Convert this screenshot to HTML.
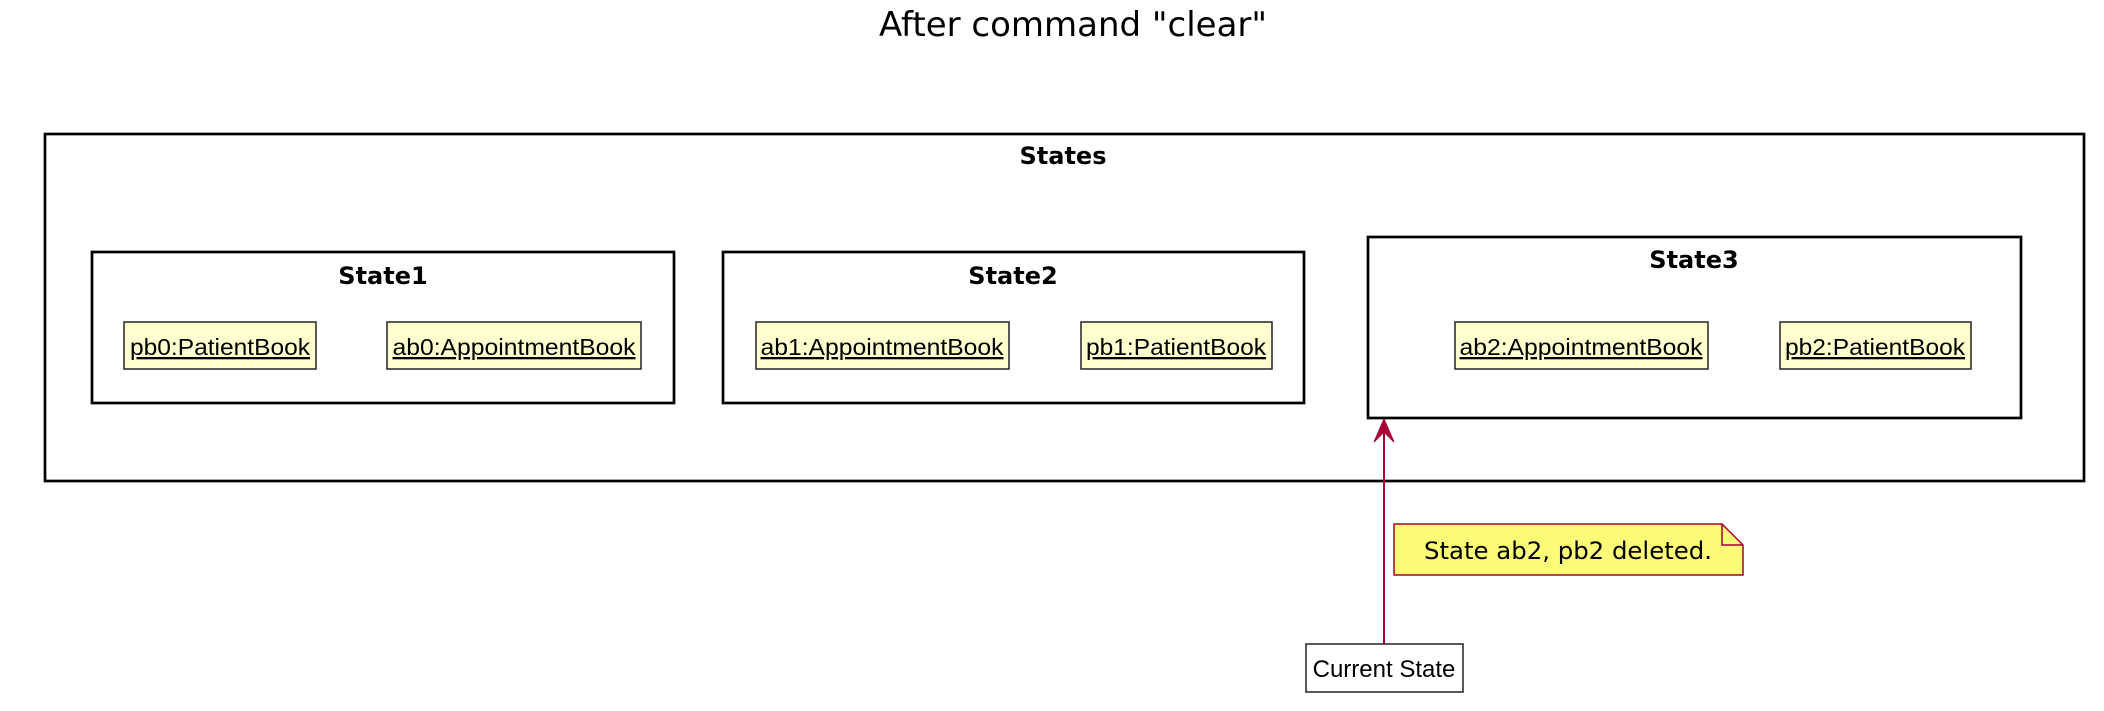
<!DOCTYPE html>
<html><head><meta charset="utf-8"><style>
body{margin:0;background:#fff;}
svg{display:block}
</style></head><body>
<svg width="2104" height="711" viewBox="0 0 2104 711" xmlns="http://www.w3.org/2000/svg">
<text x="1073" y="36" font-family="DejaVu Sans, sans-serif" font-size="34" text-anchor="middle" fill="#000">After command "clear"</text>
<rect x="45" y="134" width="2039" height="347" fill="#fff" stroke="#000" stroke-width="2.7"/>
<text x="1063" y="164" font-family="DejaVu Sans, sans-serif" font-weight="bold" font-size="24" text-anchor="middle">States</text>

<rect x="92" y="252" width="582" height="151" fill="#fff" stroke="#000" stroke-width="2.7"/>
<text x="383" y="284" font-family="DejaVu Sans, sans-serif" font-weight="bold" font-size="24" text-anchor="middle">State1</text>
<rect x="723" y="252" width="581" height="151" fill="#fff" stroke="#000" stroke-width="2.7"/>
<text x="1013" y="284" font-family="DejaVu Sans, sans-serif" font-weight="bold" font-size="24" text-anchor="middle">State2</text>
<rect x="1368" y="237" width="653" height="181" fill="#fff" stroke="#000" stroke-width="2.7"/>
<text x="1694" y="268" font-family="DejaVu Sans, sans-serif" font-weight="bold" font-size="24" text-anchor="middle">State3</text>

<g font-family="Liberation Sans, sans-serif" font-size="23" text-anchor="middle" text-decoration="underline">
<rect x="124" y="322" width="192" height="47" fill="#fefece" stroke="#222" stroke-width="1.5"/>
<text x="220" y="355" textLength="180" lengthAdjust="spacingAndGlyphs">pb0:PatientBook</text>
<rect x="387" y="322" width="254" height="47" fill="#fefece" stroke="#222" stroke-width="1.5"/>
<text x="514" y="355" textLength="243" lengthAdjust="spacingAndGlyphs">ab0:AppointmentBook</text>
<rect x="756" y="322" width="253" height="47" fill="#fefece" stroke="#222" stroke-width="1.5"/>
<text x="882" y="355" textLength="243" lengthAdjust="spacingAndGlyphs">ab1:AppointmentBook</text>
<rect x="1081" y="322" width="191" height="47" fill="#fefece" stroke="#222" stroke-width="1.5"/>
<text x="1176" y="355" textLength="180" lengthAdjust="spacingAndGlyphs">pb1:PatientBook</text>
<rect x="1455" y="322" width="253" height="47" fill="#fefece" stroke="#222" stroke-width="1.5"/>
<text x="1581" y="355" textLength="243" lengthAdjust="spacingAndGlyphs">ab2:AppointmentBook</text>
<rect x="1780" y="322" width="191" height="47" fill="#fefece" stroke="#222" stroke-width="1.5"/>
<text x="1875" y="355" textLength="180" lengthAdjust="spacingAndGlyphs">pb2:PatientBook</text>
</g>

<line x1="1384" y1="422" x2="1384" y2="644" stroke="#a80036" stroke-width="2"/>
<path d="M1384,419 L1374,442 L1384,432 L1394,442 Z" fill="#a80036" stroke="#a80036" stroke-width="1"/>

<path d="M1394,524 L1722,524 L1743,545 L1743,575 L1394,575 Z" fill="#fbfb77" stroke="#a80036" stroke-width="1.5"/>
<path d="M1722,524 L1722,545 L1743,545" fill="none" stroke="#a80036" stroke-width="1.5"/>
<text x="1568" y="559" font-family="DejaVu Sans, sans-serif" font-size="24" text-anchor="middle" textLength="288" lengthAdjust="spacingAndGlyphs">State ab2, pb2 deleted.</text>

<rect x="1306" y="644" width="157" height="48" fill="#fff" stroke="#222" stroke-width="1.5"/>
<text x="1384" y="677" font-family="Liberation Sans, sans-serif" font-size="24" text-anchor="middle">Current State</text>
</svg>
</body></html>
